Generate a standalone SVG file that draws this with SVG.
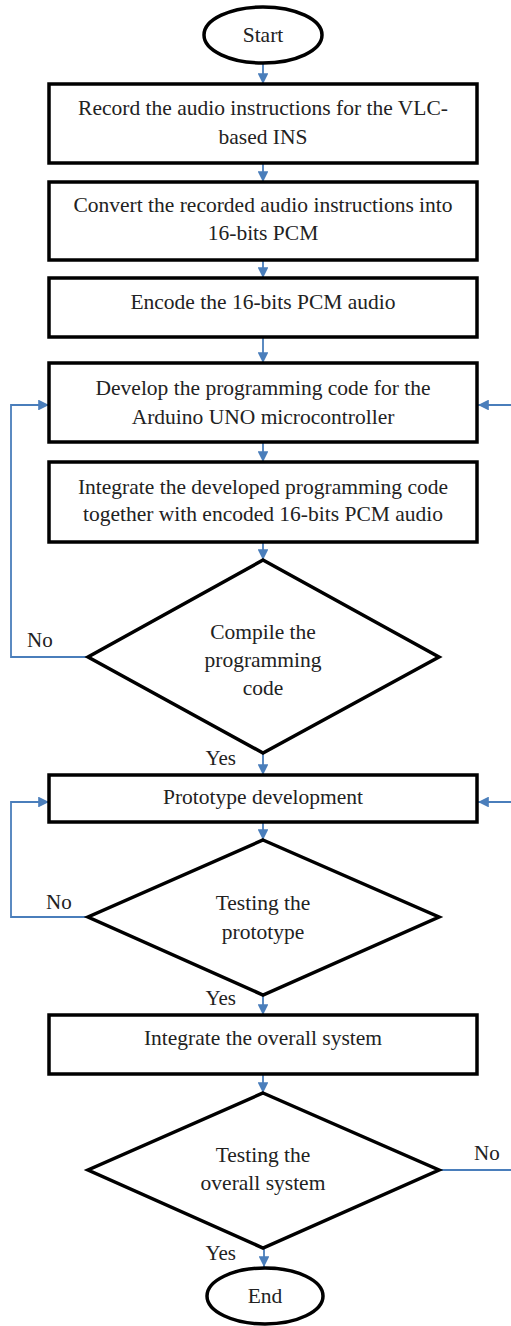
<svg xmlns="http://www.w3.org/2000/svg" width="511" height="1326" viewBox="0 0 511 1326">
  <style>
    .shape { fill: #ffffff; stroke: #000000; stroke-width: 3.5; }
    .lbl { font-family: "Liberation Serif", "Times New Roman", serif; font-size: 21.5px; fill: #222222; text-anchor: middle; }
    .edge { fill: none; stroke: #4a7ebb; stroke-width: 1.8; }
    .side { font-family: "Liberation Serif", "Times New Roman", serif; font-size: 21px; fill: #222222; }
    .yes { text-anchor: end; }
  </style>
  <defs>
    <marker id="arrow" viewBox="0 0 10 10" refX="10" refY="5" markerWidth="6" markerHeight="6" orient="auto" markerUnits="strokeWidth">
      <path d="M0,0 L10,5 L0,10 Z" fill="#4a7ebb"/>
    </marker>
  </defs>
  <rect width="511" height="1326" fill="#ffffff"/>

  <!-- connectors -->
  <g id="connectors">
    <path class="edge" d="M263,63 V84" marker-end="url(#arrow)"/>
    <path class="edge" d="M263,163 V182" marker-end="url(#arrow)"/>
    <path class="edge" d="M263,260 V278" marker-end="url(#arrow)"/>
    <path class="edge" d="M263,337 V363" marker-end="url(#arrow)"/>
    <path class="edge" d="M263,442 V462" marker-end="url(#arrow)"/>
    <path class="edge" d="M263,542 V560" marker-end="url(#arrow)"/>
    <path class="edge" d="M263,753 V775" marker-end="url(#arrow)"/>
    <path class="edge" d="M263,822 V840" marker-end="url(#arrow)"/>
    <path class="edge" d="M263,995 V1015" marker-end="url(#arrow)"/>
    <path class="edge" d="M263,1074 V1093" marker-end="url(#arrow)"/>
    <path class="edge" d="M264,1248 V1267" marker-end="url(#arrow)"/>
    <!-- No loop from compile check back to code development -->
    <path class="edge" d="M88,657 H11 V405 H49" marker-end="url(#arrow)"/>
    <path class="edge" d="M511,405 H478" marker-end="url(#arrow)"/>
    <!-- No loop from prototype test back to prototype development -->
    <path class="edge" d="M88,917 H11 V802 H49" marker-end="url(#arrow)"/>
    <path class="edge" d="M511,802 H478" marker-end="url(#arrow)"/>
    <!-- No exit from overall system test -->
    <path class="edge" d="M439,1170 H511"/>
    <text class="side" x="27" y="647">No</text>
    <text class="side" x="46" y="909">No</text>
    <text class="side" x="474" y="1160">No</text>
    <text class="side yes" x="236" y="765">Yes</text>
    <text class="side yes" x="236" y="1005">Yes</text>
    <text class="side yes" x="236" y="1260">Yes</text>
  </g>

  <g id="start">
    <ellipse class="shape" cx="263" cy="35" rx="59" ry="28"/>
    <text class="lbl" x="263" y="42">Start</text>
  </g>

  <g id="record">
    <rect class="shape" x="49" y="84" width="428" height="79"/>
    <text class="lbl" x="263" y="115">Record the audio instructions for the VLC-</text>
    <text class="lbl" x="263" y="144">based INS</text>
  </g>

  <g id="convert">
    <rect class="shape" x="49" y="182" width="428" height="78"/>
    <text class="lbl" x="263" y="212">Convert the recorded audio instructions into</text>
    <text class="lbl" x="263" y="240">16-bits PCM</text>
  </g>

  <g id="encode">
    <rect class="shape" x="49" y="278" width="428" height="59"/>
    <text class="lbl" x="263" y="309">Encode the 16-bits PCM audio</text>
  </g>

  <g id="develop">
    <rect class="shape" x="49" y="363" width="428" height="79"/>
    <text class="lbl" x="263" y="395">Develop the programming code for the</text>
    <text class="lbl" x="263" y="424">Arduino UNO microcontroller</text>
  </g>

  <g id="integrate-code">
    <rect class="shape" x="49" y="462" width="428" height="80"/>
    <text class="lbl" x="263" y="494">Integrate the developed programming code</text>
    <text class="lbl" x="263" y="521">together with encoded 16-bits PCM audio</text>
  </g>

  <g id="compile">
    <polygon class="shape" points="263,560 439,657 263,753 88,657"/>
    <text class="lbl" x="263" y="639">Compile the</text>
    <text class="lbl" x="263" y="667">programming</text>
    <text class="lbl" x="263" y="695">code</text>
  </g>

  <g id="prototype">
    <rect class="shape" x="49" y="775" width="428" height="47"/>
    <text class="lbl" x="263" y="804">Prototype development</text>
  </g>

  <g id="test-prototype">
    <polygon class="shape" points="263,840 439,917 263,995 88,917"/>
    <text class="lbl" x="263" y="910">Testing the</text>
    <text class="lbl" x="263" y="939">prototype</text>
  </g>

  <g id="integrate-system">
    <rect class="shape" x="49" y="1015" width="428" height="59"/>
    <text class="lbl" x="263" y="1045">Integrate the overall system</text>
  </g>

  <g id="test-system">
    <polygon class="shape" points="263,1093 439,1170 263,1248 88,1170"/>
    <text class="lbl" x="263" y="1162">Testing the</text>
    <text class="lbl" x="263" y="1190">overall system</text>
  </g>

  <g id="end">
    <ellipse class="shape" cx="265" cy="1296" rx="58" ry="28"/>
    <text class="lbl" x="265" y="1303">End</text>
  </g>
</svg>
